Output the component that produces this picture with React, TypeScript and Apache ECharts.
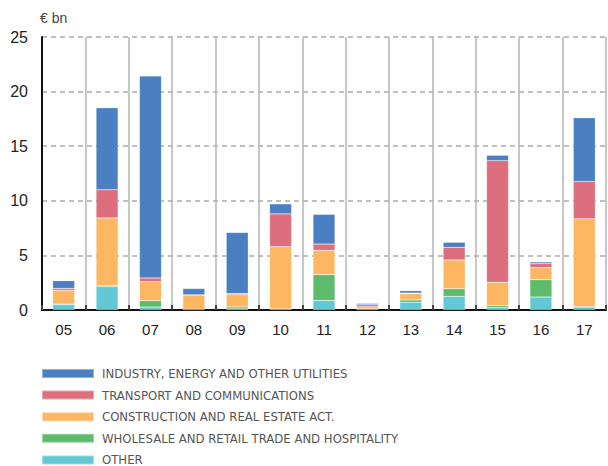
import React, { useEffect, useRef } from "react";
import * as echarts from "echarts";

const categories = ["05", "06", "07", "08", "09", "10", "11", "12", "13", "14", "15", "16", "17"];
const other = [0.52, 2.13, 0.27, 0.05, 0.1, 0.08, 0.88, 0.07, 0.7, 1.25, 0.21, 1.19, 0.27];
const wholesale = [0.02, 0.1, 0.58, 0.02, 0.18, 0.02, 2.36, 0.03, 0.22, 0.7, 0.19, 1.59, 0.02];
const construction = [1.26, 6.2, 1.75, 1.3, 1.12, 5.7, 2.22, 0.2, 0.58, 2.63, 2.13, 1.1, 8.06];
const transport = [0.18, 2.58, 0.33, 0.02, 0.1, 3.0, 0.58, 0.18, 0.05, 1.16, 11.15, 0.36, 3.42];
const industry = [0.7, 7.5, 18.5, 0.58, 5.6, 0.92, 2.72, 0.12, 0.22, 0.46, 0.49, 0.16, 5.83];
const yTicks = [0, 5, 10, 15, 20, 25];

const seriesDefs = [
  { name: "OTHER", data: other, color: "#63c8d6" },
  { name: "WHOLESALE AND RETAIL TRADE AND HOSPITALITY", data: wholesale, color: "#5dbb6b" },
  { name: "CONSTRUCTION AND REAL ESTATE ACT.", data: construction, color: "#fdb662" },
  { name: "TRANSPORT AND COMMUNICATIONS", data: transport, color: "#dc6e7e" },
  { name: "INDUSTRY, ENERGY AND OTHER UTILITIES", data: industry, color: "#4a7fc1" },
];
const legendOrder = [
  "INDUSTRY, ENERGY AND OTHER UTILITIES",
  "TRANSPORT AND COMMUNICATIONS",
  "CONSTRUCTION AND REAL ESTATE ACT.",
  "WHOLESALE AND RETAIL TRADE AND HOSPITALITY",
  "OTHER",
];

export default function App() {
  const ref = useRef<HTMLDivElement>(null);
  useEffect(() => {
    if (!ref.current) return;
    const chart = echarts.init(ref.current, undefined, { renderer: "svg" });
    chart.setOption({
      animation: false,
      backgroundColor: "#ffffff",
      grid: { left: 42, right: 2, top: 37, bottom: 156 },
      legend: {
        data: legendOrder,
        orient: "vertical",
        left: 36,
        top: 362,
        height: 140,
        itemWidth: 52,
        itemHeight: 9,
        itemGap: 8.6,
        icon: "rect",
        textStyle: {
          fontFamily: "'Liberation Sans Narrow', 'DejaVu Sans Condensed', 'Roboto Condensed', sans-serif",
          fontSize: 13,
          color: "#555555",
          padding: [0, 0, 0, 3],
        },
      },
      xAxis: {
        type: "category",
        data: categories,
        boundaryGap: true,
        axisLine: { show: true, lineStyle: { color: "#111111", width: 2 } },
        axisTick: { show: true, inside: true, length: 5, lineStyle: { color: "#444444", width: 2 } },
        axisLabel: { color: "#222222", fontSize: 15, fontFamily: "'Liberation Sans', Arial, sans-serif", margin: 12 },
        splitLine: { show: true, lineStyle: { color: "#b5b5b5", width: 1.5 } },
      },
      yAxis: {
        type: "value",
        min: yTicks[0],
        max: yTicks[yTicks.length - 1],
        interval: 5,
        name: "€ bn",
        nameLocation: "end",
        nameGap: 12,
        nameTextStyle: { color: "#444444", fontSize: 14, align: "left", padding: [0, 0, 0, -2], fontFamily: "'Liberation Sans', Arial, sans-serif" },
        axisLine: { show: true, lineStyle: { color: "#111111", width: 2 } },
        axisTick: { show: false },
        axisLabel: { color: "#222222", fontSize: 16, fontFamily: "'Liberation Sans', Arial, sans-serif", margin: 14 },
        splitLine: { show: true, lineStyle: { color: "#aaaaaa", width: 1.5, type: [5, 4] } },
      },
      series: seriesDefs.map((s) => ({
        name: s.name,
        type: "bar",
        stack: "total",
        data: s.data,
        barWidth: 22,
        itemStyle: { color: s.color, borderColor: "rgba(255,255,255,0.4)", borderWidth: 0.5 },
      })),
    });
    return () => chart.dispose();
  }, []);
  return <div ref={ref} style={{ width: 608, height: 466, position: "absolute", left: 0, top: 0 }} />;
}
